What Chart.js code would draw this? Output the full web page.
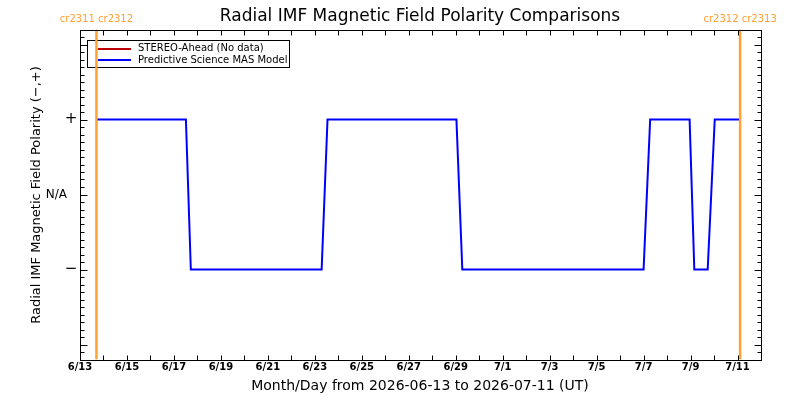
<!DOCTYPE html>
<html>
<head>
<meta charset="utf-8">
<title>Radial IMF Magnetic Field Polarity Comparisons</title>
<script src="https://cdn.jsdelivr.net/npm/chart.js@4.4.1/dist/chart.umd.min.js"></script>
<style>
  html, body { margin: 0; padding: 0; background: #fff; }
  #wrap { width: 800px; height: 400px; }
</style>
</head>
<body>
<div id="wrap"><canvas id="polarityChart" width="800" height="400"></canvas></div>
<script>
// Data (days since 2026-06-13 00:00 UT)
const masDays = [0.70, 4.51, 4.72, 10.29, 10.54, 16.03, 16.28, 24.00, 24.28, 25.96, 26.16, 26.73, 27.03, 28.11];
const masPolarity = [1, 1, -1, -1, 1, 1, -1, -1, 1, 1, -1, -1, 1, 1];
const stereoDays = [];       // STEREO-Ahead: no data
const stereoPolarity = [];
const crDays = [0.70, 28.11];
const crLabels = ['cr2311 cr2312', 'cr2312 cr2313'];
const dateLabels = ['6/13', '6/15', '6/17', '6/19', '6/21', '6/23', '6/25', '6/27',
                    '6/29', '7/1', '7/3', '7/5', '7/7', '7/9', '7/11'];
const yTickValues = [-1, 0, 1];
const yTickLabels = ['\u2212', 'N/A', '+'];

const ORANGE = '#ffa033';
const FONT = "'DejaVu Sans', sans-serif";

const toPoints = (xs, ys) => xs.map((d, i) => ({ x: d, y: ys[i] }));

// 1. CR boundary lines as datasets (drawn on top, so listed first)
const crSets = crDays.map(d => ({
    label: 'cr',
    data: [{ x: d, y: -2.2 }, { x: d, y: 2.2 }],
    borderColor: ORANGE,
    borderWidth: 2.5,
    pointRadius: 0
}));

// 2. Frame, ticks and all the text, IDL style
const idlFrame = {
    id: 'idlFrame',
    beforeDatasetsDraw(chart) {
        const { ctx } = chart;
        ctx.save();
        // legend box
        ctx.strokeStyle = '#000';
        ctx.lineWidth = 1;
        ctx.strokeRect(87.5, 40.5, 202, 27);
        ctx.lineWidth = 2;
        ctx.strokeStyle = '#c00000';
        ctx.beginPath(); ctx.moveTo(98, 49); ctx.lineTo(131, 49); ctx.stroke();
        ctx.strokeStyle = '#0000ff';
        ctx.beginPath(); ctx.moveTo(98, 60); ctx.lineTo(131, 60); ctx.stroke();
        ctx.fillStyle = '#000';
        ctx.font = '10px ' + FONT;
        ctx.textAlign = 'left';
        ctx.textBaseline = 'middle';
        ctx.fillText('STEREO-Ahead (No data)', 138, 48);
        ctx.fillText('Predictive Science MAS Model', 138, 60);
        ctx.restore();
    },
    afterDraw(chart) {
        const { ctx, chartArea: a, scales: { x, y } } = chart;
        const L = Math.round(a.left) + 0.5, R = Math.round(a.right) + 0.5;
        const T = Math.round(a.top) + 0.5, B = Math.round(a.bottom) + 0.5;
        ctx.save();
        ctx.strokeStyle = '#000';
        ctx.lineWidth = 1;
        ctx.strokeRect(L, T, R - L, B - T);
        ctx.beginPath();
        for (let d = Math.ceil(x.min); d <= x.max; d++) {
            const px = Math.round(x.getPixelForValue(d)) + 0.5;
            ctx.moveTo(px, B); ctx.lineTo(px, B - 5);
            ctx.moveTo(px, T); ctx.lineTo(px, T + 5);
        }
        for (let k = Math.round(y.min * 10); k <= Math.round(y.max * 10); k++) {
            const py = Math.round(y.getPixelForValue(k / 10)) + 0.5;
            const len = k % 10 === 0 ? 7 : 4;
            ctx.moveTo(L, py); ctx.lineTo(L + len, py);
            ctx.moveTo(R, py); ctx.lineTo(R - len, py);
        }
        ctx.stroke();

        ctx.fillStyle = '#000';
        ctx.textBaseline = 'middle';
        // x tick labels
        ctx.font = 'bold 10px ' + FONT;
        ctx.textAlign = 'center';
        dateLabels.forEach((t, i) => ctx.fillText(t, x.getPixelForValue(i * 2), 367));
        // y tick labels
        yTickLabels.forEach((t, i) => {
            const py = y.getPixelForValue(yTickValues[i]);
            if (t.length > 1) {
                ctx.font = '12px ' + FONT;
                ctx.textAlign = 'right'; ctx.fillText(t, 67, py);
            } else {
                ctx.font = '15px ' + FONT;
                ctx.textAlign = 'center'; ctx.fillText(t, 71, py);
            }
        });
        // titles
        ctx.textAlign = 'center';
        ctx.font = '17px ' + FONT;
        ctx.fillText('Radial IMF Magnetic Field Polarity Comparisons', 420, 17);
        ctx.font = '14px ' + FONT;
        ctx.fillText('Month/Day from 2026-06-13 to 2026-07-11 (UT)', 420, 386);
        ctx.save();
        ctx.translate(37, 195);
        ctx.rotate(-Math.PI / 2);
        ctx.font = '13px ' + FONT;
        ctx.fillText('Radial IMF Magnetic Field Polarity (\u2212,+)', 0, 0);
        ctx.restore();
        // Carrington rotation labels
        ctx.fillStyle = ORANGE;
        ctx.font = '10px ' + FONT;
        crDays.forEach((d, i) => ctx.fillText(crLabels[i], x.getPixelForValue(d), 19));
        ctx.restore();
    }
};

// 3. Chart
new Chart(document.getElementById('polarityChart'), {
    type: 'line',
    data: {
        datasets: [
            ...crSets,
            {
                label: 'STEREO-Ahead (No data)',
                data: toPoints(stereoDays, stereoPolarity),
                borderColor: '#c00000',
                borderWidth: 2,
                pointRadius: 0
            },
            {
                label: 'Predictive Science MAS Model',
                data: toPoints(masDays, masPolarity),
                borderColor: '#0000ff',
                borderWidth: 2,
                pointRadius: 0,
                tension: 0
            }
        ]
    },
    options: {
        responsive: false,
        animation: false,
        devicePixelRatio: 1,
        layout: { padding: { left: 80, right: 39, top: 29.5, bottom: 40.5 } },
        scales: {
            x: { type: 'linear', min: 0, max: 29, display: false },
            y: { type: 'linear', min: -2.2, max: 2.2, display: false }
        },
        plugins: {
            legend: { display: false },
            tooltip: { enabled: false }
        }
    },
    plugins: [idlFrame]
});
</script>
</body>
</html>
